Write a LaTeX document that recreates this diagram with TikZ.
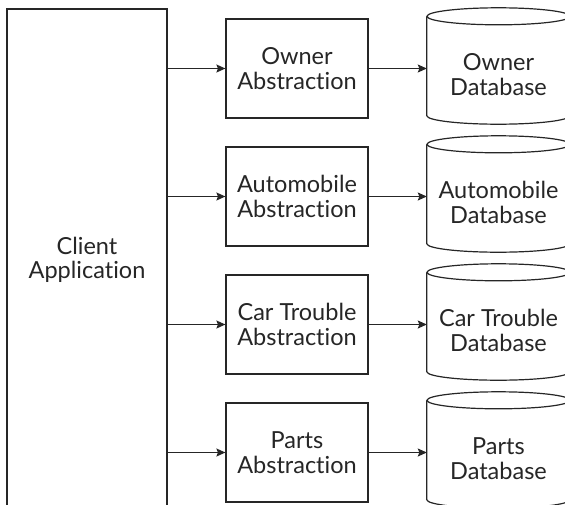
\documentclass[tikz,border=0pt]{standalone}
\usepackage{fontspec}
\setmainfont[Ligatures={NoCommon,NoDiscretionary,NoRare}]{Lato}
\usetikzlibrary{arrows.meta,positioning,calc}
\definecolor{ink}{HTML}{262626}
\tikzset{
  box/.style={draw=ink, line width=1.2pt, minimum width=142pt, minimum height=99pt,
    align=center, inner sep=0pt, font=\fontsize{23.5}{24.5}\selectfont, text=ink},
  client/.style={draw=ink, line width=1.2pt, minimum width=160pt, minimum height=502pt,
    align=center, inner sep=0pt, font=\fontsize{23.5}{24.5}\selectfont, text=ink},
  dbframe/.style={minimum width=143pt, minimum height=99pt, inner sep=0pt},
  dbtext/.style={align=center, inner sep=0pt, font=\fontsize{23.5}{24.5}\selectfont, text=ink},
  cyl/.style={draw=ink, line width=1.2pt},
  link/.style={draw=ink, line width=1.2pt, -{Stealth[length=9pt,width=8pt,inset=1.5pt]}}
}
\begin{document}
\begin{tikzpicture}[x=1pt,y=1pt]
\useasboundingbox (0,0) rectangle (565,-504);
\clip (0,0) rectangle (565,-504);
\fill[white] (0,0) rectangle (565,-504);

\node[client] (cl) at (87,-260) {Client\\Application};

\node[box] (a1) at (297,-68.5) {Owner\\Abstraction};
\node[box] (a2) at (297,-196.5) {Automobile\\Abstraction};
\node[box] (a3) at (297,-324.5) {Car Trouble\\Abstraction};
\node[box] (a4) at (297,-452.5) {Parts\\Abstraction};

\foreach \i/\yc/\txt in {1/66/{Owner\\Database},2/194/{Automobile\\Database},3/322/{Car Trouble\\Database},4/450/{Parts\\Database}}{
  \node[dbframe] (d\i) at (498.5,-\yc) {};
  \draw[cyl] (d\i.north) ellipse [x radius=71.5, y radius=8.5];
  \draw[cyl] (d\i.north west) -- (d\i.south west)
     arc[start angle=180, end angle=360, x radius=71.5, y radius=8.5] -- (d\i.north east);
  \node[dbtext] (t\i) at ([yshift=-8.5pt]d\i.center) {\txt};
}

\foreach \i in {1,2,3,4}{
  \draw[link] (cl.east |- a\i.west) -- (a\i.west);
  \draw[link] (a\i.east) -- (a\i.east -| d\i.west);
}
\end{tikzpicture}
\end{document}
